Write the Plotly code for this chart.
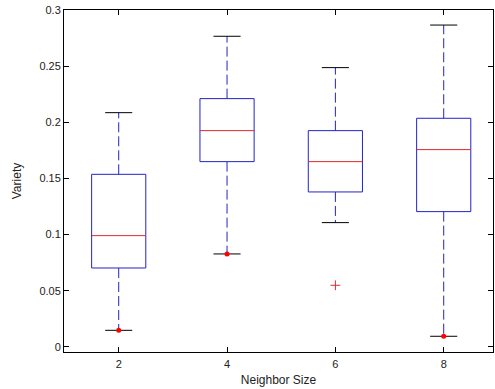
import plotly.graph_objects as go

categories = ["2", "4", "6", "8"]
positions = [1, 2, 3, 4]
q1 = [0.0703, 0.1650, 0.1380, 0.1205]
median = [0.0991, 0.1926, 0.1650, 0.1757]
q3 = [0.1537, 0.2211, 0.1926, 0.2036]
lower_whisker = [0.0148, 0.0828, 0.1107, 0.0095]
upper_whisker = [0.2086, 0.2766, 0.2487, 0.2866]
dot_x = [1, 2, 4]
dot_y = [0.0148, 0.0828, 0.0095]
outlier_x = [3]
outlier_y = [0.0549]
y_ticks = [0, 0.05, 0.1, 0.15, 0.2, 0.25, 0.3]
y_tick_labels = ["0", "0.05", "0.1", "0.15", "0.2", "0.25", "0.3"]

BOX_HALF = 0.25
CAP_HALF = 0.125
BLUE = "#2323c8"
RED = "#e02828"

fig = go.Figure()

for p, a, m, b, lo, hi in zip(positions, q1, median, q3, lower_whisker, upper_whisker):
    # whiskers (dashed)
    fig.add_trace(go.Scatter(x=[p, p, None, p, p], y=[b, hi, None, a, lo], mode="lines",
                             line=dict(color=BLUE, width=1, dash="10px,4px"),
                             hoverinfo="skip", showlegend=False))
    # caps
    fig.add_trace(go.Scatter(x=[p - CAP_HALF, p + CAP_HALF, None, p - CAP_HALF, p + CAP_HALF],
                             y=[hi, hi, None, lo, lo], mode="lines",
                             line=dict(color="black", width=1),
                             hoverinfo="skip", showlegend=False))
    # box
    fig.add_trace(go.Scatter(x=[p - BOX_HALF, p + BOX_HALF, p + BOX_HALF, p - BOX_HALF, p - BOX_HALF],
                             y=[a, a, b, b, a], mode="lines",
                             line=dict(color=BLUE, width=1),
                             hoverinfo="skip", showlegend=False))
    # median
    fig.add_trace(go.Scatter(x=[p - BOX_HALF, p + BOX_HALF], y=[m, m], mode="lines",
                             line=dict(color=RED, width=1),
                             hoverinfo="skip", showlegend=False))

fig.add_trace(go.Scatter(x=dot_x, y=dot_y, mode="markers",
                         marker=dict(color="#ff0000", size=5, symbol="circle"),
                         hoverinfo="skip", showlegend=False))
fig.add_trace(go.Scatter(x=outlier_x, y=outlier_y, mode="markers",
                         marker=dict(color=RED, size=7, symbol="cross-thin",
                                     line=dict(color=RED, width=1)),
                         hoverinfo="skip", showlegend=False))

tick_font = dict(family="Liberation Sans, Arial, sans-serif", size=11, color="#222222")
title_font = dict(family="Liberation Sans, Arial, sans-serif", size=12, color="#222222")

fig.update_layout(
    width=495, height=389,
    margin=dict(l=64, r=2, t=10, b=37),
    paper_bgcolor="white", plot_bgcolor="white",
    font=tick_font,
    xaxis=dict(range=[0.495, 4.455], tickmode="array", tickvals=positions, ticktext=categories,
               ticks="inside", ticklen=5, tickcolor="black", mirror="ticks", automargin=False,
               showline=True, linecolor="black", linewidth=1, showgrid=False, zeroline=False,
               tickfont=tick_font, ticklabelstandoff=2,
               title=dict(text="Neighbor Size", font=title_font, standoff=6)),
    yaxis=dict(range=[-0.0045, 0.3], tickmode="array", tickvals=y_ticks, ticktext=y_tick_labels,
               ticks="inside", ticklen=5, tickcolor="black", mirror="ticks", automargin=False,
               showline=True, linecolor="black", linewidth=1, showgrid=False, zeroline=False,
               tickfont=tick_font, ticklabeloverflow="allow",
               title=dict(text="Variety", font=title_font, standoff=15)),
)

fig.write_html("out.html", config={"displayModeBar": False},
               post_script="document.body.style.margin='0';document.body.style.overflow='hidden';")
